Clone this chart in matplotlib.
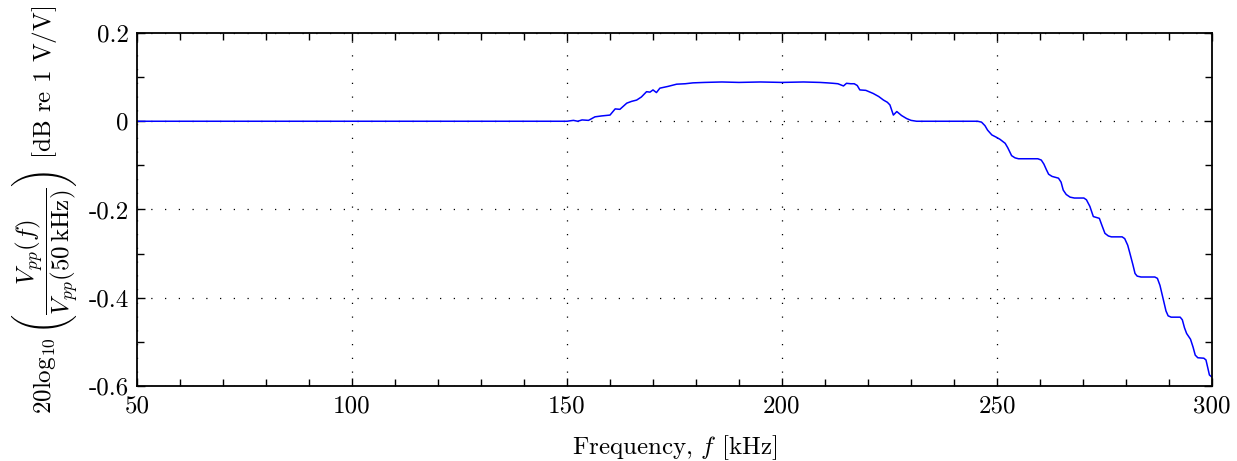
import matplotlib
matplotlib.use("Agg")
import matplotlib.pyplot as plt
from matplotlib.ticker import MultipleLocator, FixedLocator, FixedFormatter

# Data (frequency in kHz, gain in dB)
freq_khz = [50, 75, 100, 140, 148, 150, 151.5, 152.5, 153.5, 155, 156.5, 158, 160, 161.2, 162.3,
            163.9, 165, 166.2, 167.3, 168.5, 169.3, 170, 170.8, 171.6, 173.5, 175.5, 177.5, 179.3,
            182, 186, 190, 195, 200, 205, 208.8, 210.5, 211.9, 213, 214.3, 215, 216, 216.8, 217.5,
            218.1, 219.5, 221.2, 222.5, 223.6, 224.5, 225.1, 225.9, 226.7, 227.8, 229, 230, 231.3,
            235, 240, 245.5, 246.4, 247.2, 247.8, 248.8, 249.8, 250.7, 251.9, 252.5, 253.4, 254.2,
            255, 257.5, 259.5, 260.3, 260.9, 261.5, 262, 262.8, 264.3, 264.9, 265.4, 266.1, 267,
            268, 270.2, 270.8, 271.6, 272.4, 273.8, 274.4, 275.1, 275.9, 276.6, 279.1, 279.7,
            280.4, 280.9, 281.6, 282.1, 282.6, 283.5, 286.7, 287.3, 287.9, 288.7, 289.3, 289.8,
            290.5, 292.6, 293.1, 293.6, 294.1, 295, 295.6, 296.1, 296.7, 298.1, 298.6, 299.0,
            299.4, 300]
gain_db = [0.0, 0.0, 0.0, 0.0, 0.0, 0.0, 0.002, 0.0, 0.003, 0.002, 0.010, 0.012, 0.014, 0.028, 0.027,
           0.041, 0.045, 0.048, 0.055, 0.067, 0.066, 0.071, 0.065, 0.075, 0.079, 0.084, 0.085, 0.087,
           0.088, 0.089, 0.088, 0.089, 0.088, 0.089, 0.088, 0.087, 0.086, 0.085, 0.080, 0.086, 0.085,
           0.085, 0.081, 0.071, 0.070, 0.063, 0.056, 0.048, 0.043, 0.037, 0.014, 0.022, 0.013, 0.006,
           0.002, 0.0, 0.0, 0.0, 0.0, -0.002, -0.010, -0.020, -0.031, -0.036, -0.041, -0.050,
           -0.060, -0.078, -0.083, -0.085, -0.085, -0.085, -0.088, -0.097, -0.110, -0.120,
           -0.125, -0.129, -0.138, -0.156, -0.166, -0.172, -0.174, -0.174, -0.178, -0.193,
           -0.216, -0.220, -0.236, -0.254, -0.260, -0.262, -0.262, -0.266, -0.281, -0.299,
           -0.325, -0.345, -0.351, -0.353, -0.353, -0.356, -0.372, -0.405, -0.430, -0.441,
           -0.444, -0.444, -0.450, -0.468, -0.481, -0.494, -0.512, -0.530, -0.536, -0.537,
           -0.541, -0.558, -0.575, -0.580]

y_ticks = [-0.6, -0.4, -0.2, 0.0, 0.2]
y_ticklabels = ["-0.6", "-0.4", "-0.2", "0", "0.2"]
x_ticks = [50, 100, 150, 200, 250, 300]
x_ticklabels = ["50", "100", "150", "200", "250", "300"]

plt.rcParams["font.family"] = ["cmr10", "DejaVu Serif"]
plt.rcParams["mathtext.fontset"] = "cm"
plt.rcParams["axes.unicode_minus"] = False

FS = 18

fig = plt.figure(figsize=(12.37, 4.61), dpi=100)
ax = fig.add_axes([137 / 1237, 1 - 386 / 461, (1212 - 137) / 1237, (386 - 33) / 461])

ax.plot(freq_khz, gain_db, color="#0000ff", linewidth=1.1)

ax.set_xlim(50, 300)
ax.set_ylim(-0.6, 0.2)
ax.xaxis.set_major_locator(FixedLocator(x_ticks))
ax.xaxis.set_major_formatter(FixedFormatter(x_ticklabels))
ax.yaxis.set_major_locator(FixedLocator(y_ticks))
ax.yaxis.set_major_formatter(FixedFormatter(y_ticklabels))
ax.xaxis.set_minor_locator(MultipleLocator(10))
ax.yaxis.set_minor_locator(MultipleLocator(0.1))

ax.tick_params(which="both", direction="in", top=True, right=True, labelsize=FS, width=1.0, color="black")
ax.tick_params(which="major", length=6)
ax.tick_params(which="minor", length=5)
ax.tick_params(axis="x", pad=7)
ax.tick_params(axis="y", pad=6)
for s in ax.spines.values():
    s.set_linewidth(1.3)

ax.grid(True, which="major", color="black", linestyle=(0, (1, 10)), linewidth=0.9)

ax.set_xlabel(r"Frequency, $f$ [kHz]", fontsize=FS, labelpad=11)
ax.set_ylabel(r"$20\log_{10}\left(\dfrac{V_{pp}(f)}{V_{pp}(50\,\mathrm{kHz})}\right)$ [dB re 1 V/V]",
              fontsize=FS, labelpad=6)

fig.savefig("out.png", dpi=100)
